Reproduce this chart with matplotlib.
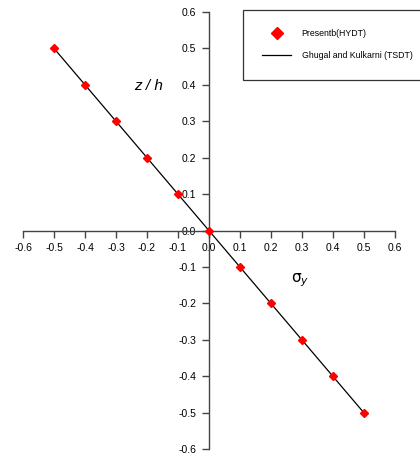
import matplotlib.pyplot as plt
from matplotlib.lines import Line2D

plt.rcParams['font.family'] = ['Liberation Sans', 'DejaVu Sans']

# present results (HYDT)
sigma_y = [-0.5, -0.4, -0.3, -0.2, -0.1, 0.0, 0.1, 0.2, 0.3, 0.4, 0.5]
z_h = [0.5, 0.4, 0.3, 0.2, 0.1, 0.0, -0.1, -0.2, -0.3, -0.4, -0.5]
# Ghugal and Kulkarni (TSDT)
tsdt_x = [-0.5, 0.5]
tsdt_y = [0.5, -0.5]
ticks = [-0.6, -0.5, -0.4, -0.3, -0.2, -0.1, 0.0, 0.1, 0.2, 0.3, 0.4, 0.5, 0.6]

fig = plt.figure(figsize=(4.2, 4.63), dpi=100)
ax = fig.add_axes([0.055, 0.030, 0.885, 0.944])

ax.plot(tsdt_x, tsdt_y, c='black', lw=0.9, zorder=2)
ax.plot(sigma_y, z_h, ls='none', marker='D', ms=4.2, c='red', mec='red', zorder=3)

ax.set_xlim(-0.6, 0.6)
ax.set_ylim(-0.6, 0.6)
ax.spines['left'].set_position(('data', 0))
ax.spines['bottom'].set_position(('data', 0))
ax.spines['right'].set_visible(False)
ax.spines['top'].set_visible(False)
for s in ['left', 'bottom']:
    ax.spines[s].set_color('#444444')
    ax.spines[s].set_linewidth(1.0)
ax.set_xticks(ticks)
ax.set_yticks(ticks)
ax.set_xticklabels(['%.1f' % t for t in ticks])
ax.set_yticklabels(['%.1f' % t for t in ticks])
ax.tick_params(direction='out', length=5, width=1, color='#444444', labelsize=7.5, pad=4)

ax.text(-0.148, 0.397, 'z / h', style='italic', fontsize=11, ha='right', va='center')
ax.text(0.294, -0.135, r'$\mathrm{\sigma}_y$', fontsize=11, ha='center', va='center')

handles = [Line2D([], [], ls='none', marker='D', ms=6, c='red'),
           Line2D([], [], c='black', lw=0.9)]
leg = fig.legend(handles, ['Presentb(HYDT)', 'Ghugal and Kulkarni (TSDT)'],
                 loc='upper left', bbox_to_anchor=(243 / 420, 1 - 10 / 463),
                 borderaxespad=0, fontsize=6.3, frameon=True, fancybox=False,
                 edgecolor='black', borderpad=2.2, labelspacing=1.5,
                 handlelength=3.3, handletextpad=1.2)
leg.get_frame().set_linewidth(0.9)

fig.savefig('out.png', dpi=100)
